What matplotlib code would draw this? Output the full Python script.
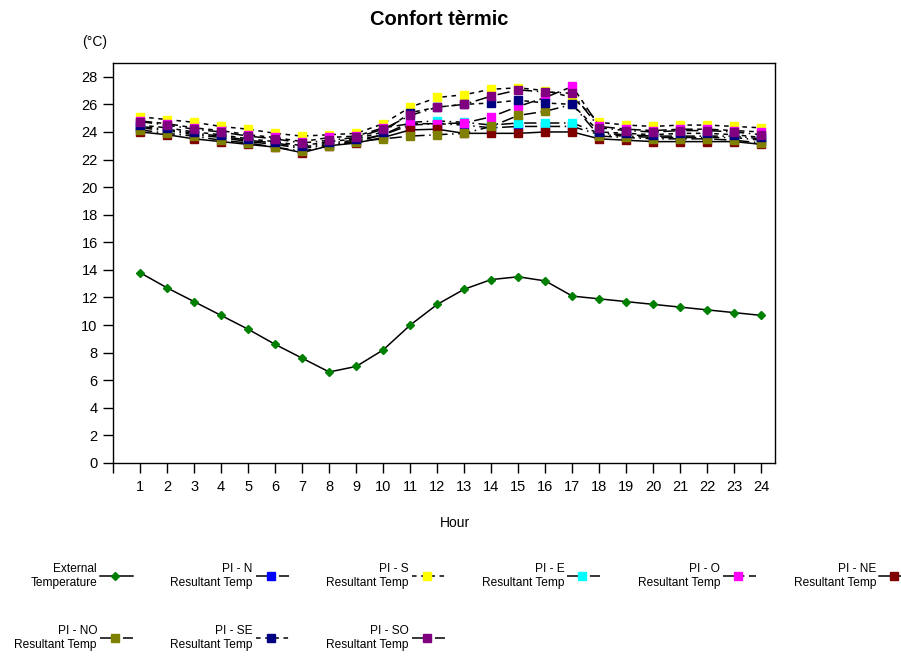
import matplotlib
matplotlib.use("Agg")
import matplotlib.pyplot as plt
from matplotlib.lines import Line2D

plt.rcParams['font.family'] = ['Liberation Sans', 'DejaVu Sans']

hours = list(range(1, 25))

ext_temp = [13.8, 12.7, 11.7, 10.7, 9.7, 8.6, 7.6, 6.6, 7.0, 8.2, 10.0, 11.5,
            12.6, 13.3, 13.5, 13.2, 12.1, 11.9, 11.7, 11.5, 11.3, 11.1, 10.9, 10.7]
pi_n = [24.3, 24.1, 23.8, 23.6, 23.3, 23.1, 22.8, 23.1, 23.3, 23.8, 24.5, 24.6,
        24.5, 24.3, 24.4, 24.4, 24.4, 23.8, 23.7, 23.6, 23.6, 23.6, 23.6, 23.4]
pi_s = [25.1, 24.9, 24.7, 24.4, 24.2, 23.9, 23.7, 23.8, 23.9, 24.6, 25.8, 26.5,
        26.7, 27.1, 27.2, 27.0, 26.5, 24.7, 24.5, 24.4, 24.5, 24.5, 24.4, 24.3]
pi_e = [24.4, 24.2, 23.9, 23.7, 23.4, 23.2, 22.9, 23.2, 23.4, 23.8, 24.7, 24.8,
        24.7, 24.5, 24.65, 24.65, 24.65, 23.9, 23.8, 23.7, 23.7, 23.7, 23.7, 23.5]
pi_o = [24.8, 24.6, 24.3, 24.1, 23.8, 23.6, 23.3, 23.6, 23.7, 24.3, 24.6, 24.6,
        24.65, 25.1, 25.85, 26.5, 27.3, 24.4, 24.2, 24.1, 24.2, 24.2, 24.1, 24.0]
pi_ne = [24.0, 23.8, 23.5, 23.3, 23.1, 22.9, 22.5, 23.0, 23.2, 23.6, 24.15, 24.2,
         23.9, 23.9, 23.9, 24.0, 24.0, 23.5, 23.4, 23.3, 23.3, 23.3, 23.3, 23.1]
pi_no = [24.15, 23.9, 23.7, 23.4, 23.2, 22.9, 22.6, 23.0, 23.3, 23.5, 23.7, 23.8,
         23.9, 24.4, 25.2, 25.5, 26.0, 23.7, 23.6, 23.5, 23.5, 23.5, 23.4, 23.2]
pi_se = [24.5, 24.3, 24.0, 23.8, 23.5, 23.3, 23.0, 23.3, 23.5, 24.0, 25.4, 25.8,
         26.0, 26.1, 26.3, 26.1, 26.0, 24.0, 23.9, 23.8, 23.9, 23.9, 23.8, 23.6]
pi_so = [24.75, 24.5, 24.2, 24.0, 23.7, 23.5, 23.2, 23.4, 23.6, 24.2, 25.2, 25.8,
         26.0, 26.6, 27.05, 26.9, 26.8, 24.3, 24.1, 24.0, 24.1, 24.1, 24.0, 23.8]

labels = ["External\nTemperature",
          "PI - N\nResultant Temp", "PI - S\nResultant Temp", "PI - E\nResultant Temp",
          "PI - O\nResultant Temp", "PI - NE\nResultant Temp", "PI - NO\nResultant Temp",
          "PI - SE\nResultant Temp", "PI - SO\nResultant Temp"]
series = [ext_temp, pi_n, pi_s, pi_e, pi_o, pi_ne, pi_no, pi_se, pi_so]
colors = ['#008000', '#0000ff', '#ffff00', '#00ffff', '#ff00ff',
          '#800000', '#808000', '#000080', '#800080']
styles = ['-', (0, (8, 3, 1, 3)), (0, (3, 3)), (0, (8, 3, 1, 3)), (0, (8, 3, 3, 3)),
          '-', (0, (8, 3, 1, 3)), (0, (3, 3)), (0, (8, 3, 1, 3))]

fig = plt.figure(figsize=(9.01, 6.59), dpi=100)
ax = fig.add_axes([113 / 901, 1 - 463 / 659, 662 / 901, 400 / 659])

for i, (vals, col, ls) in enumerate(zip(series, colors, styles)):
    if i == 0:
        ax.plot(hours, vals, color='black', lw=1.1, ls=ls, marker='D',
                markersize=4, markerfacecolor=col, markeredgecolor=col)
    else:
        ax.plot(hours, vals, color='black', lw=1.1, ls=ls, marker='s',
                markersize=5.2, markerfacecolor=col, markeredgecolor=col)

ax.set_xlim(0, 24.5)
ax.set_ylim(0, 29)
ax.set_xticks(range(0, 25))
ax.set_xticklabels([''] + [str(h) for h in hours])
ax.set_yticks(range(0, 29, 2))
ax.tick_params(direction='out', length=7, width=1, labelsize=10.5)
ax.tick_params(axis='x', pad=5)
ax.tick_params(axis='y', pad=4)
for s in ax.spines.values():
    s.set_linewidth(1)

fig.text(0.487, 0.970, "Confort tèrmic", ha='center', va='center',
         fontsize=14.5, fontweight='bold')
fig.text(82 / 901, 1 - 42 / 659, "(°C)", ha='left', va='center', fontsize=10)
fig.text(455 / 901, 1 - 523 / 659, "Hour", ha='center', va='center', fontsize=10)

# legend entries laid out in a 6-column grid below the chart
for i, (lab, col, ls) in enumerate(zip(labels, colors, styles)):
    row, colnum = divmod(i, 6)
    xr = 97 + 155.8 * colnum
    yc = 576 + 62 * row
    fig.text(xr / 901, 1 - yc / 659, lab, ha='right', va='center',
             multialignment='right', fontsize=8.6, linespacing=1.3)
    fig.add_artist(Line2D([(xr + 3) / 901, (xr + 36) / 901],
                          [1 - yc / 659, 1 - yc / 659],
                          transform=fig.transFigure, color='black', lw=1.1, ls=ls))
    fig.add_artist(Line2D([(xr + 18) / 901], [1 - yc / 659],
                          transform=fig.transFigure, ls='none',
                          marker='D' if i == 0 else 's',
                          markersize=4 if i == 0 else 5.2,
                          markerfacecolor=col, markeredgecolor=col))

fig.savefig("out.png", dpi=100)
